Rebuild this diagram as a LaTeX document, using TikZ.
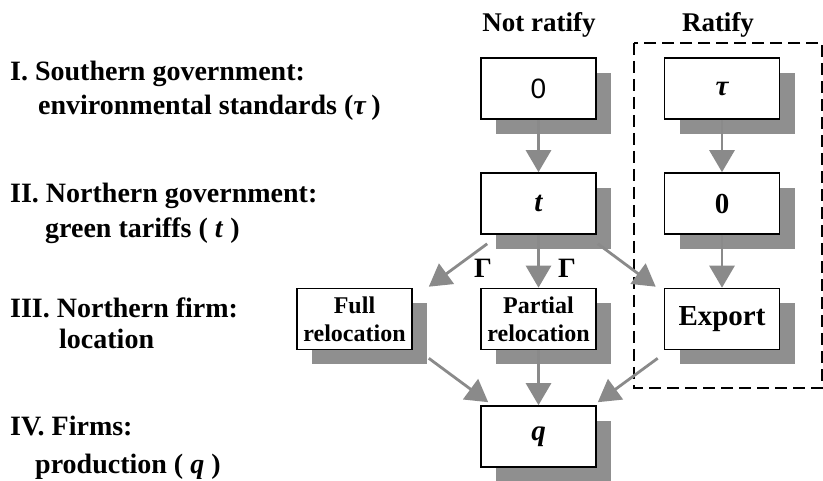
\documentclass[tikz,border=0pt]{standalone}
\usepackage{fontspec}
\setmainfont{Liberation Serif}
\setsansfont{Liberation Sans}
\usetikzlibrary{arrows.meta,shadows}
\definecolor{shadeG}{RGB}{143,143,143}
\definecolor{arrG}{RGB}{138,138,138}
\tikzset{
	boxA/.style={
		draw, fill=white, line width=1.6pt, minimum width=115pt, minimum height=61pt,
		inner sep=0pt, align=center,
		font={\fontsize{24}{28}\selectfont\bfseries},
		general shadow={fill=shadeG, shadow xshift=15pt, shadow yshift=-15pt}
	},
	arrA/.style={
		draw=arrG, line width=2.8pt, -{Triangle[length=22pt,width=25pt]}
	},
	stageA/.style={anchor=base west, inner sep=0pt, font={\fontsize{28}{32}\selectfont\bfseries}},
	headA/.style={anchor=base, inner sep=0pt, font={\fontsize{27}{30}\selectfont\bfseries}},
	gamA/.style={inner sep=0pt, font={\fontsize{28}{30}\selectfont\bfseries}},
	frameA/.style={line width=2pt, dash pattern=on 12pt off 6pt},
}
\def\bigF{\fontsize{29}{30}\selectfont}

\begin{document}
\begin{tikzpicture}[x=1pt, y=1pt]
\useasboundingbox (0,0) rectangle (823,480);
% stages
\node[stageA] (lab1a) at (10,399) {I. Southern government:};
\node[stageA] (lab1b) at (38,365) {environmental standards (\textit{τ}\,)};
\node[stageA] (lab2a) at (10,277) {II. Northern government:};
\node[stageA] (lab2b) at (45,242) {green tariffs ( \textit{t} )};
\node[stageA] (lab3a) at (10,162) {III. Northern firm:};
\node[stageA] (lab3b) at (59,131) {location};
\node[stageA] (lab4a) at (10,45) {IV. Firms:};
\node[stageA] (lab4b) at (35,7) {production ( \textit{q} )};
% columns
\node[headA] (hNot) at (539,448) {Not ratify};
\node[headA] (hRat) at (718,448) {Ratify};
\draw[frameA] (634,437) rectangle (822,92);
% boxes
\node[boxA] (n0)     at (538.5,391.5) {\fontsize{28}{30}\selectfont\sffamily\mdseries 0};
\node[boxA] (tau)    at (722,391.5)   {\bigF\itshape τ};
\node[boxA] (t)      at (538.5,276.5) {\bigF\itshape t};
\node[boxA] (zero)   at (722,276.5)   {\bigF 0};
\node[boxA] (full)   at (354.5,161)   {Full\\relocation};
\node[boxA] (part)   at (538.5,161)   {Partial\\relocation};
\node[boxA] (export) at (722,161)     {\bigF Export};
\node[boxA] (q)      at (538.5,43.5)  {\bigF\itshape q};
% arrows
\draw[arrA] (n0) -- (t);
\draw[arrA] (tau) -- (zero);
\draw[arrA] (zero) -- (export);
\draw[arrA] ([xshift=7pt,yshift=-9pt]t.south west) -- ([xshift=16pt,yshift=1pt]full.north east);
\draw[arrA] (t) -- (part);
\draw[arrA] ([xshift=1pt,yshift=-9pt]t.south east) -- ([xshift=-8pt,yshift=1pt]export.north west);
\draw[arrA] ([xshift=16pt,yshift=-8pt]full.south east) -- ([xshift=8pt,yshift=3pt]q.north west);
\draw[arrA] (part) -- (q);
\draw[arrA] ([xshift=-6pt,yshift=-8pt]export.south west) -- ([xshift=1pt,yshift=3pt]q.north east);
\node[gamA] (g1) at (483,212) {Γ};
\node[gamA] (g2) at (567,212) {Γ};
\end{tikzpicture}
\end{document}
